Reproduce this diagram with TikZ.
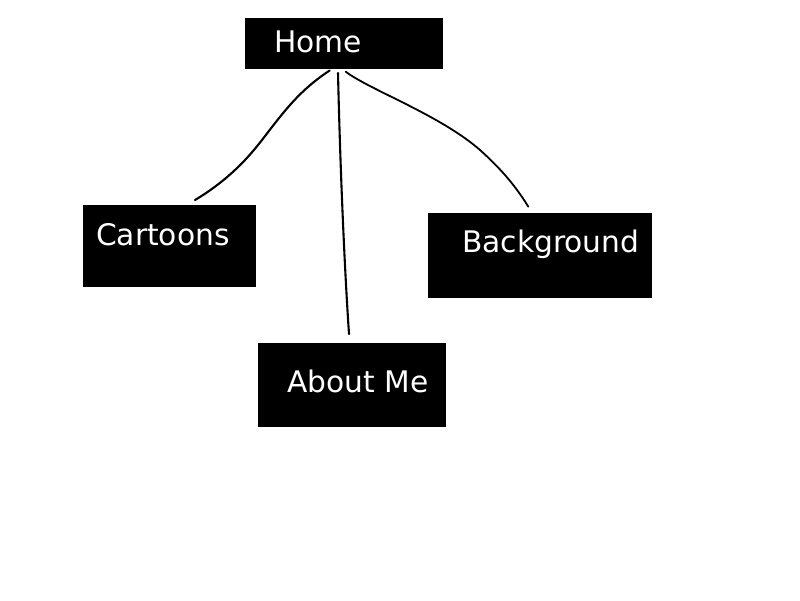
\documentclass[tikz,border=0pt]{standalone}
\usepackage{fontspec}
\setmainfont{DejaVu Sans}
\begin{document}
\begin{tikzpicture}[x=1pt,y=-1pt,
  box/.style={fill=black,draw=none,inner sep=0pt},
  lbl/.style={text=white,anchor=base west,inner sep=0pt,font=\fontsize{29.7}{34}\selectfont},
  stroke/.style={line width=2.1pt,line cap=round,line join=round,black}]
\useasboundingbox (0,0) rectangle (800,600);
% boxes
\node[box,minimum width=198pt,minimum height=51pt] (home) at (344,43.8) {};
\node[box,minimum width=173pt,minimum height=82pt] (cart) at (169.2,246.2) {};
\node[box,minimum width=223.5pt,minimum height=85pt] (back) at (540,255.5) {};
\node[box,minimum width=187.5pt,minimum height=84.5pt] (about) at (352,385.2) {};
% labels
\node[lbl] (homet) at (274,52.5) {Home};
\node[lbl] (cartt) at (96,245) {Cartoons};
\node[lbl] (backt) at (462,252.3) {Background};
\node[lbl] (aboutt) at (287,392.3) {About Me};
% connector ends
\coordinate (l0) at (329.7,70.5);
\coordinate (lm) at (262,140);
\coordinate (l1) at (195,200);
\coordinate (m0) at (338,73);
\coordinate (m1) at (349,334);
\coordinate (r0) at (345.7,71.7);
\coordinate (rm) at (480,150);
\coordinate (r1) at (528.3,206.7);
% connectors
\draw[stroke] (l0) .. controls (300,90) and (285,110) .. (lm) .. controls (245,162) and (225,182) .. (l1);
\draw[stroke] (m0) .. controls (340,160) and (344,260) .. (m1);
\draw[stroke,line width=1.8pt] (r0) .. controls (370,90) and (440,115) .. (rm) .. controls (500,168) and (515,185) .. (r1);
\end{tikzpicture}
\end{document}
